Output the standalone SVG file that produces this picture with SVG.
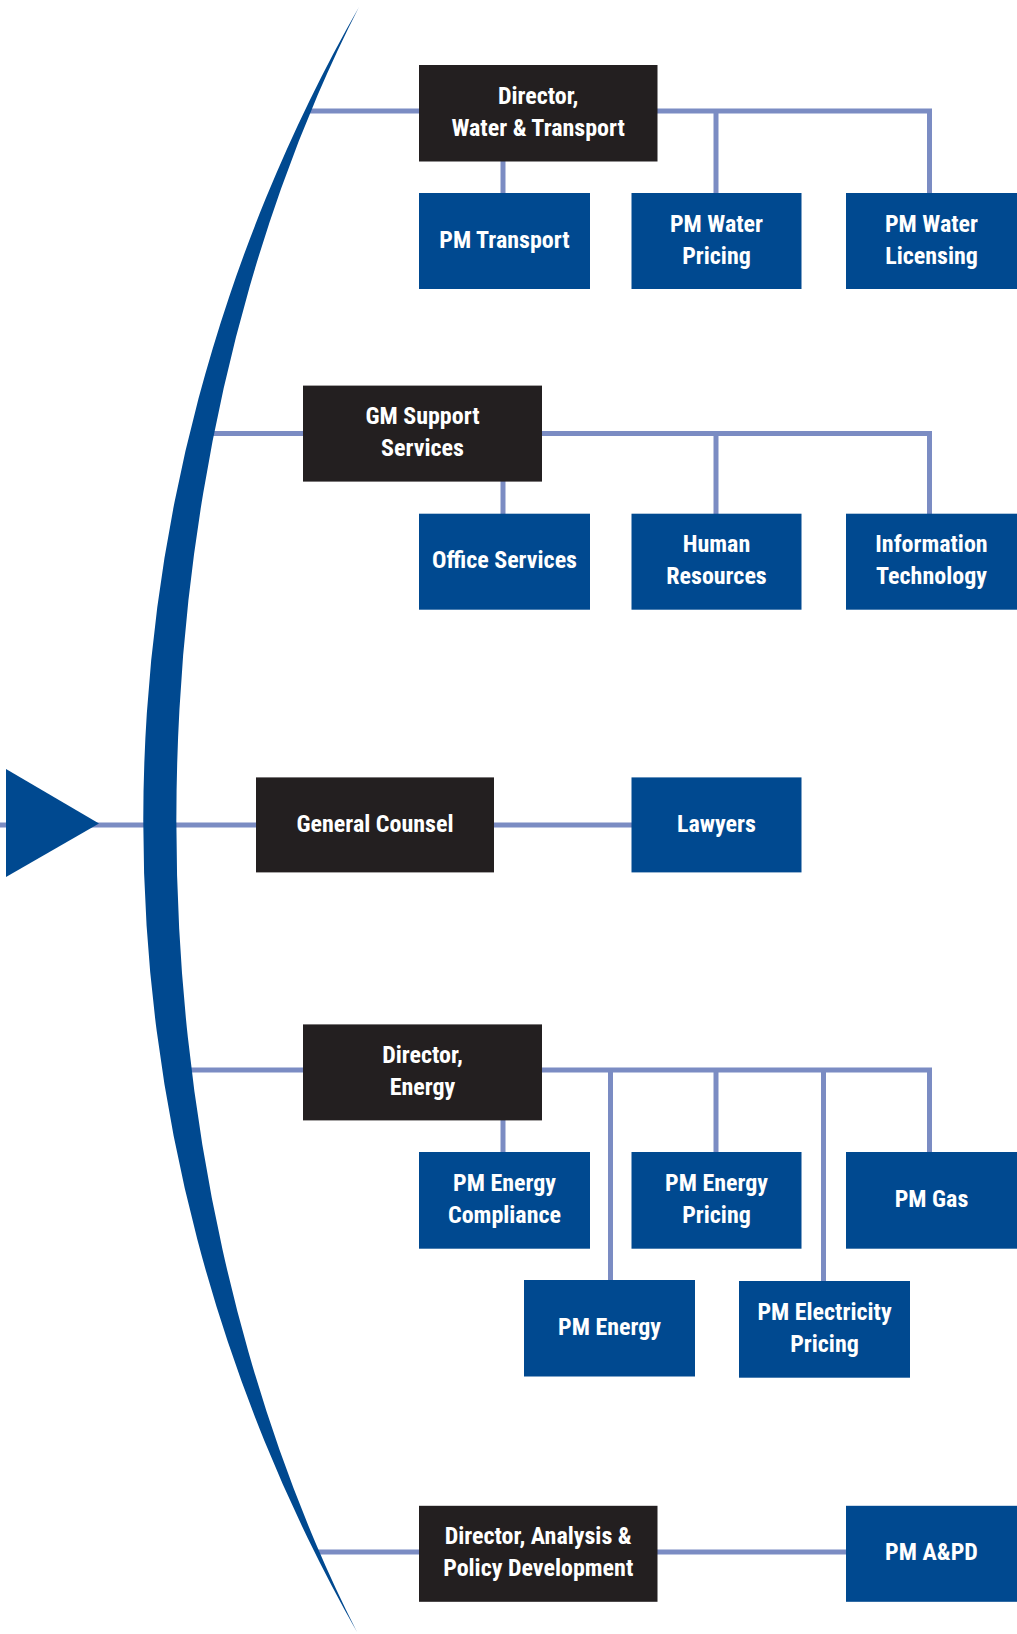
<svg xmlns="http://www.w3.org/2000/svg" width="1017" height="1634" viewBox="0 0 1017 1634">
<style>
.dark{fill:#231f20}
.blue{fill:#004990}
.conn{fill:none;stroke:#7b8cc3;stroke-width:5;stroke-linejoin:miter;stroke-linecap:butt}
text{font-family:"Liberation Sans Narrow","Roboto Condensed","DejaVu Sans Condensed","Liberation Sans",sans-serif;font-weight:bold;font-size:24px;fill:#ffffff;text-anchor:middle}
</style>
<rect width="1017" height="1634" fill="#ffffff"/>
<g id="connectors">
<path class="conn" d="M306 111H419"/>
<path class="conn" d="M657 111H929.5V193"/>
<path class="conn" d="M716 111V193"/>
<path class="conn" d="M503 161V193"/>
<path class="conn" d="M200 433.5H303"/>
<path class="conn" d="M542 433.5H929.5V514"/>
<path class="conn" d="M716 433.5V514"/>
<path class="conn" d="M503 481V514"/>
<path class="conn" d="M0 825H256"/>
<path class="conn" d="M494 825H632"/>
<path class="conn" d="M175 1070H303"/>
<path class="conn" d="M542 1070H929.5V1152"/>
<path class="conn" d="M610.5 1070V1280"/>
<path class="conn" d="M716 1070V1152"/>
<path class="conn" d="M823.5 1070V1281"/>
<path class="conn" d="M503 1120V1152"/>
<path class="conn" d="M318 1552H419"/>
<path class="conn" d="M657 1552H846"/>
</g>
<g id="arc">
<path class="blue" d="M359 7A1644.6 1644.6 0 0 0 357 1632A828 1300 0 0 1 359 7Z"/>
</g>
<g id="pointer">
<polygon class="blue" points="6,769 99,823.5 6,877"/>
</g>
<g id="n_dir_wt"><rect class="dark" x="419" y="65" width="238.5" height="96.5"/><text x="538.2" y="103.5">Director,</text><text x="538.2" y="135.5">Water &amp; Transport</text></g>
<g id="n_pm_transport"><rect class="blue" x="419" y="193" width="171" height="96"/><text x="504.5" y="247.5">PM Transport</text></g>
<g id="n_pm_water_pricing"><rect class="blue" x="631.5" y="193" width="170" height="96"/><text x="716.5" y="231.5">PM Water</text><text x="716.5" y="263.5">Pricing</text></g>
<g id="n_pm_water_licensing"><rect class="blue" x="846" y="193" width="171" height="96"/><text x="931.5" y="231.5">PM Water</text><text x="931.5" y="263.5">Licensing</text></g>
<g id="n_gm_support"><rect class="dark" x="303" y="385.6" width="239" height="96"/><text x="422.5" y="423.5">GM Support</text><text x="422.5" y="455.5">Services</text></g>
<g id="n_office"><rect class="blue" x="419" y="513.7" width="171" height="96"/><text x="504.5" y="568">Office Services</text></g>
<g id="n_hr"><rect class="blue" x="631.5" y="513.7" width="170" height="96"/><text x="716.5" y="552">Human</text><text x="716.5" y="584">Resources</text></g>
<g id="n_it"><rect class="blue" x="846" y="513.7" width="171" height="96"/><text x="931.5" y="552">Information</text><text x="931.5" y="584">Technology</text></g>
<g id="n_gc"><rect class="dark" x="256" y="777.4" width="238" height="95"/><text x="375" y="831.5">General Counsel</text></g>
<g id="n_lawyers"><rect class="blue" x="631.5" y="777.4" width="170" height="95"/><text x="716.5" y="831.5">Lawyers</text></g>
<g id="n_dir_energy"><rect class="dark" x="303" y="1024.4" width="239" height="96"/><text x="422.5" y="1062.5">Director,</text><text x="422.5" y="1094.5">Energy</text></g>
<g id="n_pm_energy_compliance"><rect class="blue" x="419" y="1152" width="171" height="96.7"/><text x="504.5" y="1190.5">PM Energy</text><text x="504.5" y="1222.5">Compliance</text></g>
<g id="n_pm_energy_pricing"><rect class="blue" x="631.5" y="1152" width="170" height="96.7"/><text x="716.5" y="1190.5">PM Energy</text><text x="716.5" y="1222.5">Pricing</text></g>
<g id="n_pm_gas"><rect class="blue" x="846" y="1152" width="171" height="96.7"/><text x="931.5" y="1206.5">PM Gas</text></g>
<g id="n_pm_energy"><rect class="blue" x="524" y="1280" width="171" height="96.5"/><text x="609.5" y="1334.5">PM Energy</text></g>
<g id="n_pm_elec"><rect class="blue" x="739" y="1281" width="171" height="96.7"/><text x="824.5" y="1319.5">PM Electricity</text><text x="824.5" y="1351.5">Pricing</text></g>
<g id="n_dir_apd"><rect class="dark" x="419" y="1505.8" width="238.5" height="96"/><text x="538.2" y="1544">Director, Analysis &amp;</text><text x="538.2" y="1576">Policy Development</text></g>
<g id="n_pm_apd"><rect class="blue" x="846" y="1505.8" width="171" height="96"/><text x="931.5" y="1560">PM A&amp;PD</text></g>
</svg>
